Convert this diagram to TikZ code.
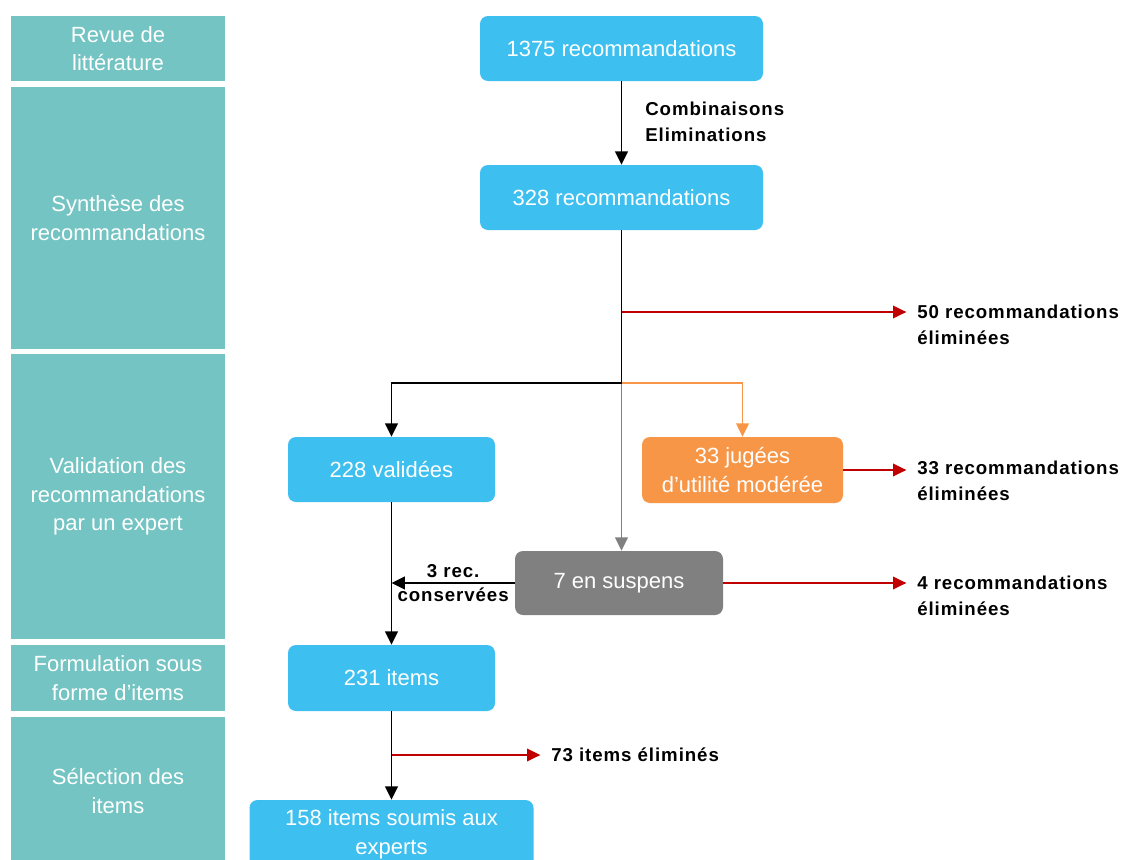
\documentclass[tikz,border=0pt]{standalone}
\usepackage{fontspec}
\setmainfont{Liberation Sans}
\newfontfamily\lblfont[LetterSpace=5]{Liberation Sans}
\usetikzlibrary{arrows.meta}
\definecolor{phasecol}{HTML}{73C4C2}
\definecolor{recblue}{HTML}{3DBFEF}
\definecolor{jugorange}{HTML}{F79646}
\definecolor{susgrey}{HTML}{808080}
\definecolor{elimred}{HTML}{C00000}
\newcommand\boxfont{\fontsize{16.5}{21.5}\selectfont}

\begin{document}
\begin{tikzpicture}[x=0.75pt,y=-0.75pt,
  phase/.style={fill=phasecol,text=white,minimum width=160.5pt,align=center,font=\boxfont,inner sep=0pt},
  recbox/.style={rounded corners=6pt,text=white,align=center,font=\boxfont,inner sep=0pt},
  lbl/.style={font=\lblfont\bfseries\fontsize{14}{19.5}\selectfont,align=left,inner sep=0pt},
  flow/.style={line width=1.4pt,-{Triangle[length=10pt,width=9.5pt]}},
  elim/.style={elimred,line width=1.1pt,shorten >=8pt,-{Triangle[length=10pt,width=9.5pt]}}]
\useasboundingbox (0,0) rectangle (1139,860);

\node[phase,minimum height=48.75pt] (p1) at (118,48.5) {Revue de\\littérature};
\node[phase,minimum height=196.5pt] (p2) at (118,218) {Synthèse des\\recommandations};
\node[phase,minimum height=213.75pt] (p3) at (118,496.5) {Validation des\\recommandations\\par un expert};
\node[phase,minimum height=49.5pt] (p4) at (118,678) {Formulation sous\\forme d’items};
\node[phase,minimum height=111pt] (p5) at (118,791) {Sélection des\\items};

\node[recbox,fill=recblue,minimum width=212.25pt,minimum height=48.75pt] (r1375) at (621.5,48.5) {1375 recommandations};
\node[recbox,fill=recblue,minimum width=212.25pt,minimum height=48.75pt] (r328) at (621.5,197.5) {328 recommandations};
\node[recbox,fill=recblue,minimum width=155.25pt,minimum height=48.75pt] (val) at (391.5,469.5) {228 validées};
\node[recbox,fill=jugorange,minimum width=150.75pt,minimum height=49.5pt] (jug) at (742.5,470) {33 jugées\\d’utilité modérée};
\node[recbox,fill=susgrey,minimum width=156pt,minimum height=48pt] (susp) at (619,583) {7 en suspens};
\node[recbox,fill=recblue,minimum width=155.25pt,minimum height=49.5pt] (items) at (391.5,678) {231 items};
\node[recbox,fill=recblue,minimum width=213pt,minimum height=51pt] (final) at (391.5,834) {158 items soumis aux\\experts};

\node[lbl,anchor=west] (comb) at (645,122) {Combinaisons\\Eliminations};
\node[lbl,anchor=west] (e50) at (917,325) {50 recommandations\\éliminées};
\node[lbl,anchor=west] (e33) at (917,481) {33 recommandations\\éliminées};
\node[lbl,anchor=west] (e4) at (917,596) {4 recommandations\\éliminées};
\node[lbl,anchor=west] (e73) at (551,755) {73 items éliminés};

\coordinate (split) at (621.5,383);
\coordinate (tap50) at (621.5,312);
\coordinate (tap73) at (391.5,755);

\draw[flow] (r1375.south) -- (r328.north);
\draw[line width=1.4pt] (r328.south) -- (split);
\draw[flow,susgrey] (split) -- (split |- susp.north);
\draw[flow] (split) -| (val.north);
\draw[flow,jugorange,line width=1.1pt] (split) -| (jug.north);
\draw[elim] (tap50) -- (e50.west |- tap50);
\draw[elim] (jug.east) -- (e33.west |- jug.east);
\draw[elim] (susp.east) -- (e4.west |- susp.east);
\draw[flow] (susp.west) -- node[lbl,above=3pt] (kept) {3 rec.} node[lbl,below=3pt] (kept2) {conservées} (val.south |- susp.west);
\draw[flow] (val.south) -- (items.north);
\draw[flow] (items.south) -- (final.north);
\draw[elim] (tap73) -- (e73.west |- tap73);
\end{tikzpicture}
\end{document}
